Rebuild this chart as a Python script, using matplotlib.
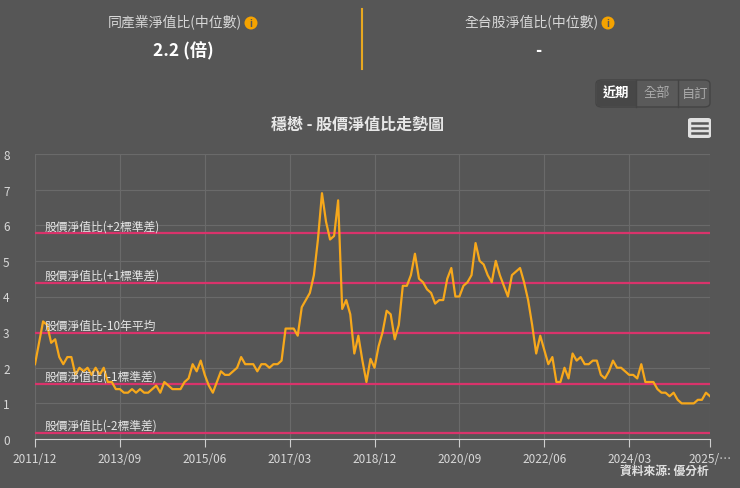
import matplotlib
matplotlib.use("Agg")
import matplotlib.pyplot as plt
from matplotlib.patches import FancyBboxPatch, Ellipse, Rectangle

plt.rcParams['font.family'] = ['Noto Sans CJK TC', 'DejaVu Sans']

start_year, start_month = 2011, 12
pbr = [2.1, 2.7, 3.3, 3.2, 2.7, 2.8, 2.3, 2.1, 2.3, 2.3, 1.8, 2.0, 1.9, 2.0, 1.8, 2.0,
       1.8, 2.0, 1.6, 1.6, 1.4, 1.4, 1.3, 1.3, 1.4, 1.3, 1.4, 1.3, 1.3, 1.4, 1.5, 1.3,
       1.6, 1.5, 1.4, 1.4, 1.4, 1.6, 1.7, 2.1, 1.9, 2.2, 1.8, 1.5, 1.3, 1.6, 1.9, 1.8,
       1.8, 1.9, 2.0, 2.3, 2.1, 2.1, 2.1, 1.9, 2.1, 2.1, 2.0, 2.1, 2.1, 2.2, 3.1, 3.1,
       3.1, 2.9, 3.7, 3.9, 4.1, 4.6, 5.6, 6.9, 6.1, 5.6, 5.7, 6.7, 3.65, 3.9, 3.5, 2.4,
       2.9, 2.2, 1.6, 2.25, 2.0, 2.6, 3.0, 3.6, 3.5, 2.8, 3.2, 4.3, 4.3, 4.6, 5.2, 4.5,
       4.4, 4.2, 4.1, 3.8, 3.9, 3.9, 4.5, 4.8, 4.0, 4.0, 4.3, 4.4, 4.6, 5.5, 5.0, 4.9,
       4.6, 4.4, 5.0, 4.6, 4.3, 4.0, 4.6, 4.7, 4.8, 4.4, 3.9, 3.2, 2.4, 2.9, 2.5, 2.1,
       2.3, 1.6, 1.6, 2.0, 1.7, 2.4, 2.2, 2.3, 2.1, 2.1, 2.2, 2.2, 1.8, 1.7, 1.9, 2.2,
       2.0, 2.0, 1.9, 1.8, 1.8, 1.7, 2.1, 1.6, 1.6, 1.6, 1.4, 1.3, 1.3, 1.2, 1.3, 1.1,
       1.0, 1.0, 1.0, 1.0, 1.1, 1.1, 1.3, 1.2]
months = []
y, m = start_year, start_month
for _ in pbr:
    months.append(f"{y}/{m:02d}")
    m += 1
    if m > 12:
        m = 1; y += 1

band_names = ["股價淨值比(+2標準差)", "股價淨值比(+1標準差)", "股價淨值比-10年平均",
              "股價淨值比(-1標準差)", "股價淨值比(-2標準差)"]
band_values = [5.77, 4.38, 2.97, 1.55, 0.18]

BG = "#565656"
fig = plt.figure(figsize=(7.4, 4.89), dpi=100, facecolor=BG)
ax = fig.add_axes([35/740, 49/489, 675/740, 285/489], facecolor=BG)

x = list(range(len(pbr)))
for v, name in zip(band_values, band_names):
    ax.axhline(v, color="#d9336b", lw=1.6, zorder=2)
    ax.text(2.3, v + 0.12, name, color="#e6e6e6", fontsize=8.5, zorder=4)
ax.plot(x, pbr, color="#f7a81b", lw=1.6, zorder=3)

ax.set_xlim(0, len(pbr) - 1)
ax.set_ylim(0, 8)
ticks = list(range(0, len(pbr), 21))
labels = [months[i] for i in ticks]
ticks.append(len(pbr) - 1)
labels.append("2025/…")
ax.set_xticks(ticks)
ax.set_xticklabels(labels)
ax.set_yticks(range(0, 9))
ax.grid(True, color="#6a6a6a", lw=0.8, zorder=0)
for s in ["top", "right", "left"]:
    ax.spines[s].set_visible(False)
ax.spines["bottom"].set_color("#cfcfcf")
ax.tick_params(axis="x", colors="#cfcfcf", labelcolor="#d8d8d8", labelsize=8.5, length=6, direction="out")
ax.tick_params(axis="y", length=0, labelcolor="#d8d8d8", labelsize=8.5)
for lbl in ax.get_yticklabels():
    lbl.set_horizontalalignment("left")
ax.yaxis.set_tick_params(pad=23)

def fx(px): return px / 740
def fy(py): return 1 - py / 489
fig.text(fx(175), fy(22), "同產業淨值比(中位數)", color="#d8d8d8", fontsize=10, ha="center", va="center")
fig.text(fx(183), fy(51), "2.2 (倍)", color="white", fontsize=12.5, fontweight="bold", ha="center", va="center")
fig.text(fx(532), fy(22), "全台股淨值比(中位數)", color="#d8d8d8", fontsize=10, ha="center", va="center")
fig.text(fx(538), fy(51), "-", color="white", fontsize=12, fontweight="bold", ha="center", va="center")
for cx in (251, 608):
    fig.patches.append(Ellipse((fx(cx), fy(24)), 13/740, 13/489, transform=fig.transFigure,
                               facecolor="#f5a300", edgecolor="none"))
    fig.text(fx(cx), fy(24), "i", color="#565656", fontsize=7, fontweight="bold", ha="center", va="center")
fig.lines.append(plt.Line2D([fx(362), fx(362)], [fy(10), fy(70)], transform=fig.transFigure,
                            color="#e8a820", lw=1.5))
fig.patches.append(FancyBboxPatch((fx(596), fy(108)), 114/740, 27/489, boxstyle="round,pad=0,rounding_size=0.008",
                                  transform=fig.transFigure, facecolor="#5a5a5a", edgecolor="#444444", lw=1))
fig.patches.append(Rectangle((fx(597), fy(107)), 39/740, 25/489, transform=fig.transFigure,
                             facecolor="#474747", edgecolor="none"))
for px in (636, 678):
    fig.lines.append(plt.Line2D([fx(px), fx(px)], [fy(81), fy(108)], transform=fig.transFigure, color="#444444", lw=1))
fig.text(fx(616), fy(94), "近期", color="white", fontsize=9.5, fontweight="bold", ha="center", va="center")
fig.text(fx(657), fy(94), "全部", color="#aaaaaa", fontsize=9.5, ha="center", va="center")
fig.text(fx(695), fy(94), "自訂", color="#aaaaaa", fontsize=9.5, ha="center", va="center")
fig.text(fx(358), fy(125), "穩懋 - 股價淨值比走勢圖", color="#e8e8e8", fontsize=11.5, fontweight="bold", ha="center", va="center")
fig.patches.append(FancyBboxPatch((fx(688), fy(139)), 23/740, 20/489, boxstyle="round,pad=0,rounding_size=0.004",
                                  transform=fig.transFigure, facecolor="#e0e0e0", edgecolor="none"))
for py in (124, 129, 134):
    fig.lines.append(plt.Line2D([fx(692), fx(707)], [fy(py), fy(py)], transform=fig.transFigure, color="#555555", lw=1.8))
fig.text(fx(709), fy(471), "資料來源: 優分析", color="#e0e0e0", fontsize=8.5, fontweight="bold", ha="right", va="center")

fig.savefig("out.png", dpi=100, facecolor=BG)
